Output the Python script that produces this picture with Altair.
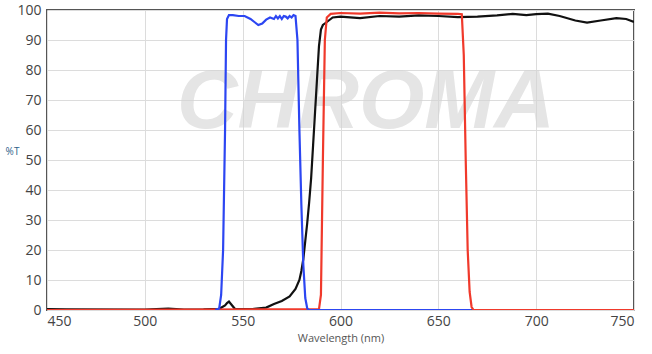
import altair as alt
import pandas as pd

# Black curve
black_wl = [450, 460, 500, 512, 520, 530, 538, 541, 542, 543, 544, 546, 555, 562, 566, 570, 574, 577, 579, 580,
            581, 582, 583, 584, 585, 586, 587, 588, 589, 590, 591, 592, 594, 596, 600, 610, 620, 630, 640, 650,
            660, 670, 680, 688, 695, 700, 706, 712, 720, 726, 733, 741, 746, 750]
black_t = [0.3, 0.2, 0.1, 0.5, 0.1, 0.2, 0.4, 1.5, 2.3, 2.8, 2.0, 0.4, 0.3, 0.8, 2.0, 3.0, 4.5, 7.0, 10, 13,
           17, 23, 29, 36, 44, 55, 66, 77, 88, 93.5, 95, 95.5, 96.5, 97.5, 97.8, 97.3, 98.0, 97.8, 98.2, 98.0,
           97.6, 97.8, 98.2, 98.7, 98.3, 98.6, 98.8, 98.0, 96.5, 95.8, 96.5, 97.3, 97.0, 96.0]

# Red curve
red_wl = [450, 589, 590, 591, 592, 593, 595, 600, 610, 620, 630, 640, 650, 660, 662, 663, 664, 665, 666, 667, 668, 750]
red_t = [0, 0.3, 5, 50, 90, 97.5, 98.7, 99.0, 98.8, 99.1, 98.9, 99.0, 98.8, 98.7, 98.6, 85, 50, 20, 6, 1, 0, 0]

# Blue curve
blue_wl = [536, 538, 539, 540, 541, 541.5, 542, 543, 545, 548, 551, 554, 556, 558, 560, 562, 564, 566, 567, 568,
           569, 570, 571, 572, 573, 574, 575, 576, 577, 578, 579, 580, 581, 582, 583, 584, 667]
blue_t = [0, 0.5, 5, 20, 60, 90, 97, 98.3, 98.3, 98.0, 98.0, 97.0, 96.0, 95.0, 95.5, 96.8, 97.5, 97.0, 98.0, 97.2,
          98.0, 97.0, 98.0, 97.8, 97.2, 98.0, 97.5, 98.3, 98.0, 90, 60, 35, 15, 4, 0.5, 0, 0]

x_ticks = [450, 500, 550, 600, 650, 700, 750]
y_ticks = [0, 10, 20, 30, 40, 50, 60, 70, 80, 90, 100]

wm_text = ["CHROMA"]
wm_x = [613]
wm_y = [69]

df = pd.concat([
    pd.DataFrame({"wl": black_wl, "t": black_t, "s": "black", "o": 0}),
    pd.DataFrame({"wl": red_wl, "t": red_t, "s": "red", "o": 1}),
    pd.DataFrame({"wl": blue_wl, "t": blue_t, "s": "blue", "o": 2}),
])

xs = alt.Scale(domain=[450, 750], nice=False, zero=False)
ys = alt.Scale(domain=[0, 100], nice=False)

x_axis = alt.Axis(values=x_ticks, format="d", labelFontSize=14, labelColor="#444",
                  labelFont="Open Sans", ticks=False, labelPadding=4, domain=False,
                  labelOverlap=False,
                  grid=True, gridColor="#dcdcdc", titleFont="Open Sans", titleFontSize=11,
                  titleFontWeight="normal", titleColor="#555", titlePadding=4)
y_axis = alt.Axis(values=y_ticks, labelFontSize=14, labelColor="#444", labelFont="Open Sans",
                  ticks=False, labelPadding=6, domain=False, grid=True, gridColor="#dcdcdc",
                  labelOverlap=False,
                  titleAngle=0, titleFont="Open Sans", titleFontSize=10, titleFontWeight="normal",
                  titleColor="#2f5f8a", titleX=-35, titleY=146, titleAlign="center")

wm = alt.Chart(pd.DataFrame({"x": wm_x, "y": wm_y, "txt": wm_text})).mark_text(
    font="Liberation Sans", fontSize=84, fontWeight="bold", fontStyle="italic",
    color="#d4d4d4", opacity=0.6, align="center", baseline="middle"
).encode(x=alt.X("x:Q", scale=xs, axis=x_axis, title="Wavelength (nm)"),
         y=alt.Y("y:Q", scale=ys, axis=y_axis, title="%T"), text="txt:N")

lines = alt.Chart(df).mark_line(strokeWidth=2.2, clip=True).encode(
    x=alt.X("wl:Q", scale=xs, title="Wavelength (nm)", axis=x_axis),
    y=alt.Y("t:Q", scale=ys, title="%T", axis=y_axis),
    color=alt.Color("s:N", scale=alt.Scale(domain=["black", "red", "blue"],
                                           range=["#111111", "#f0392b", "#2c46f2"]), legend=None),
    order=alt.Order("o:Q"),
    detail="s:N",
)

chart = alt.layer(wm, lines).properties(
    width=587, height=300,
    autosize=alt.AutoSizeParams(type="none"),
    padding={"left": 47, "top": 10, "right": 18, "bottom": 44},
).configure_view(stroke="#555", strokeWidth=2)

chart.save("out.html", embed_options={"renderer": "svg", "actions": False})
